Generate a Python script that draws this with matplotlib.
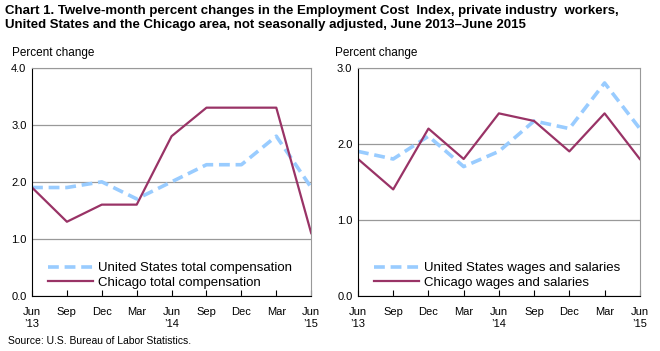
import matplotlib
matplotlib.use('Agg')
import matplotlib.pyplot as plt

plt.rcParams['font.family'] = ['Liberation Sans', 'DejaVu Sans']

# data ECI 12-month percent changes
months = ['Jun\n\u201913', 'Sep', 'Dec', 'Mar', 'Jun\n\u201914', 'Sep', 'Dec', 'Mar', 'Jun\n\u201915']
us_total = [1.9, 1.9, 2.0, 1.7, 2.0, 2.3, 2.3, 2.8, 1.9]
chi_total = [1.9, 1.3, 1.6, 1.6, 2.8, 3.3, 3.3, 3.3, 1.1]
us_wages = [1.9, 1.8, 2.1, 1.7, 1.9, 2.3, 2.2, 2.8, 2.2]
chi_wages = [1.8, 1.4, 2.2, 1.8, 2.4, 2.3, 1.9, 2.4, 1.8]

blue = '#99CCFF'
maroon = '#993366'

fig = plt.figure(figsize=(6.6, 3.51), dpi=100)
fig.text(0.008, 0.985, 'Chart 1. Twelve-month percent changes in the Employment Cost  Index, private industry  workers,\n'
         'United States and the Chicago area, not seasonally adjusted, June 2013\u2013June 2015',
         ha='left', va='top', fontsize=9.5, fontweight='bold', linespacing=1.15)
fig.text(0.012, 0.015, 'Source: U.S. Bureau of Labor Statistics.', fontsize=7.5, ha='left', va='bottom')


def draw(ax, us, chi, ymax, us_lab, chi_lab):
    x = range(len(months))
    ax.plot(x, us, color=blue, lw=2.6, ls=(0, (3, 1.6)), label=us_lab)
    ax.plot(x, chi, color=maroon, lw=1.6, label=chi_lab)
    ax.set_xlim(0, len(months) - 1)
    ax.set_ylim(0, ymax)
    ax.set_yticks([i * 1.0 for i in range(int(ymax) + 1)])
    ax.set_yticklabels([f'{i:.1f}' for i in range(int(ymax) + 1)])
    ax.set_xticks(list(x))
    ax.set_xticklabels(months)
    ax.grid(axis='y', color='#999999', lw=0.9)
    ax.set_axisbelow(True)
    ax.tick_params(axis='y', length=0, labelsize=8, pad=4)
    ax.tick_params(axis='x', direction='in', length=4, labelsize=8, pad=8, color='black')
    for s in ['top', 'right']:
        ax.spines[s].set_color('#999999')
    for s in ['left', 'bottom']:
        ax.spines[s].set_color('black')
    for lab in ax.get_xticklabels():
        lab.set_linespacing(1.3)
    ax.legend(loc='lower left', bbox_to_anchor=(0.03, 0.0), frameon=False, fontsize=9.5,
              handlelength=3.4, handletextpad=0.4, labelspacing=0.15, borderaxespad=0.15)
    ax.text(-0.02, 1.04, 'Percent change', transform=ax.transAxes, fontsize=8.5, ha='left', va='bottom')


ax1 = fig.add_axes([0.0485, 0.157, 0.423, 0.65])
draw(ax1, us_total, chi_total, 4, 'United States total compensation', 'Chicago total compensation')
ax1.texts[0].set_x(-0.07)

ax2 = fig.add_axes([0.5424, 0.157, 0.427, 0.65])
draw(ax2, us_wages, chi_wages, 3, 'United States wages and salaries', 'Chicago wages and salaries')
ax2.texts[0].set_x(-0.08)

fig.savefig('out.png', dpi=100)
